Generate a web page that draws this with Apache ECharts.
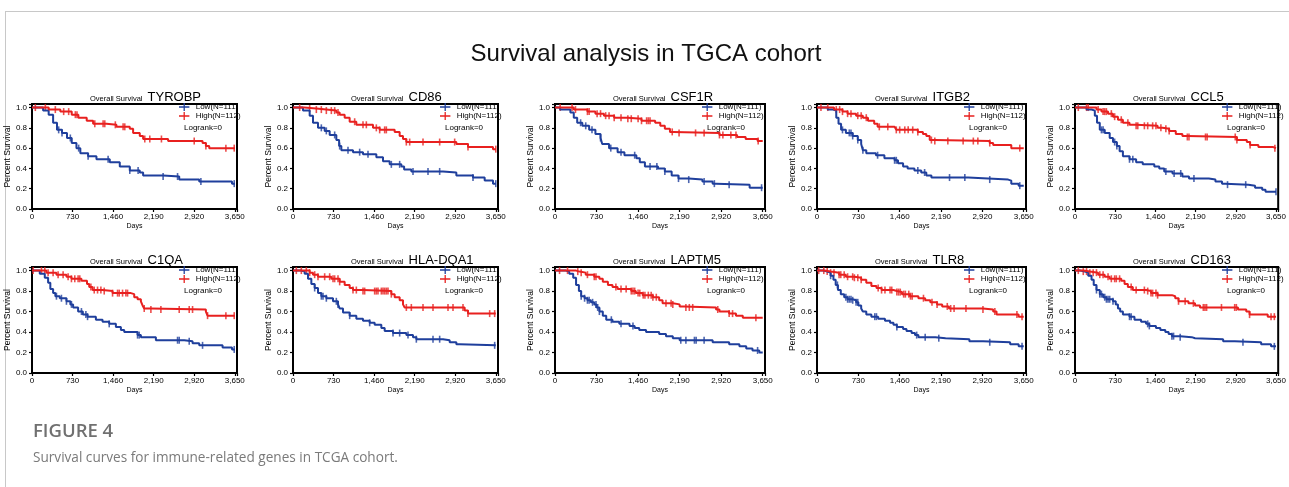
<!DOCTYPE html>
<html>
<head>
<meta charset="utf-8">
<script src="https://cdn.jsdelivr.net/npm/echarts@6.0.0/dist/echarts.min.js"></script>
<style>
  html, body { margin: 0; padding: 0; background: #fff; }
  #chart { width: 1289px; height: 487px; }
</style>
</head>
<body>
<div id="chart"></div>
<script>
// 基因名称（每个面板一个）
const genes = ['TYROBP', 'CD86', 'CSF1R', 'ITGB2', 'CCL5', 'C1QA', 'HLA-DQA1', 'LAPTM5', 'TLR8', 'CD163'];
const xTicks = [0, 730, 1460, 2190, 2920, 3650];
const yTicks = [0, 0.2, 0.4, 0.6, 0.8, 1.0];

// KM曲线：[天数, 生存率]，删失时间点单独列出
const tyrobpLow = [[0,1],[200,0.97],[300,0.93],[380,0.85],[450,0.78],[540,0.75],[630,0.70],[715,0.65],[800,0.60],[870,0.55],[1010,0.52],[1160,0.49],[1400,0.46],[1580,0.42],[1760,0.38],[1940,0.36],[2000,0.33],[2360,0.32],[2650,0.29],[3010,0.27],[3600,0.25],[3650,0.25]];
const tyrobpLowC = [480,540,690,840,1010,1370,1760,1910,2360,2620,3040,3640];
const tyrobpHigh = [[0,1],[300,0.98],[510,0.96],[715,0.93],[835,0.90],[985,0.87],[1100,0.84],[1340,0.83],[1520,0.81],[1760,0.79],[1820,0.75],[1940,0.72],[2000,0.69],[2450,0.67],[3070,0.65],[3130,0.62],[3190,0.60],[3650,0.60]];
const tyrobpHighC = [60,240,420,570,660,780,810,1130,1280,1310,1500,1640,1670,2030,2120,2330,2920,3130,3490,3640];

const cd86Low = [[0,1],[180,0.97],[300,0.92],[360,0.85],[450,0.80],[570,0.77],[660,0.73],[780,0.68],[830,0.62],[870,0.58],[1080,0.56],[1260,0.54],[1500,0.51],[1620,0.47],[1740,0.44],[1950,0.42],[2000,0.39],[2130,0.37],[2700,0.36],[2940,0.33],[3240,0.31],[3450,0.28],[3600,0.25],[3650,0.25]];
const cd86LowC = [510,600,750,840,990,1200,1350,1770,1920,2160,2430,2640,3240,3650];
const cd86High = [[0,1],[200,0.99],[420,0.98],[600,0.97],[780,0.95],[840,0.93],[930,0.90],[1020,0.86],[1140,0.83],[1440,0.80],[1560,0.78],[1830,0.76],[1920,0.72],[1980,0.69],[2040,0.66],[2940,0.64],[3150,0.61],[3600,0.59],[3650,0.59]];
const cd86HighC = [120,300,420,510,600,690,750,810,1110,1260,1320,1500,1560,1650,1680,2040,2100,2340,2640,2910,3150,3650];

const csf1rLow = [[0,1],[90,0.98],[270,0.95],[330,0.90],[390,0.85],[480,0.82],[600,0.78],[710,0.74],[800,0.70],[830,0.64],[950,0.60],[1100,0.56],[1220,0.53],[1430,0.50],[1490,0.46],[1580,0.42],[1810,0.40],[1930,0.37],[2050,0.33],[2170,0.30],[2350,0.29],[2590,0.27],[2770,0.25],[2830,0.24],[3420,0.21],[3650,0.21]];
const csf1rLowC = [450,540,650,800,980,1160,1400,1670,1790,1930,2170,2350,2620,2800,3060,3630];
const csf1rHigh = [[0,1],[330,0.98],[570,0.96],[710,0.94],[860,0.92],[1040,0.90],[1280,0.89],[1520,0.87],[1760,0.85],[1850,0.82],[1930,0.79],[2020,0.76],[2080,0.75],[2890,0.73],[3200,0.71],[3350,0.69],[3560,0.67],[3650,0.67]];
const csf1rHighC = [90,300,360,570,600,740,800,890,950,1040,1160,1280,1340,1460,1520,1610,1640,1670,2060,2180,2470,2620,2890,2950,3090,3180,3570];

const itgb2Low = [[0,1],[190,0.98],[280,0.97],[340,0.90],[380,0.84],[425,0.78],[510,0.75],[630,0.72],[720,0.68],[780,0.64],[810,0.58],[870,0.55],[1040,0.53],[1190,0.50],[1370,0.48],[1430,0.45],[1520,0.42],[1600,0.40],[1720,0.38],[1840,0.36],[1930,0.33],[2020,0.31],[2670,0.30],[3020,0.29],[3375,0.28],[3430,0.25],[3560,0.23],[3650,0.23]];
const itgb2LowC = [450,570,600,630,720,810,1070,1370,1400,1780,1900,2340,2610,3050,3580];
const itgb2High = [[0,1],[300,0.98],[450,0.96],[540,0.94],[690,0.92],[810,0.90],[900,0.87],[1010,0.84],[1070,0.81],[1370,0.80],[1400,0.78],[1780,0.76],[1870,0.74],[1930,0.72],[1990,0.68],[2080,0.67],[3050,0.65],[3110,0.63],[3430,0.60],[3650,0.60]];
const itgb2HighC = [70,190,340,400,450,540,600,720,780,870,1100,1250,1400,1460,1550,1610,1690,1780,2020,2080,2310,2580,2760,2840,3050,3580];

const ccl5Low = [[0,1],[210,0.98],[300,0.97],[360,0.92],[400,0.85],[450,0.78],[540,0.75],[630,0.70],[690,0.66],[760,0.62],[810,0.57],[870,0.52],[990,0.49],[1110,0.46],[1230,0.44],[1440,0.42],[1530,0.40],[1620,0.37],[1770,0.35],[1950,0.32],[2070,0.30],[2430,0.29],[2550,0.27],[2670,0.25],[2730,0.24],[3150,0.23],[3270,0.21],[3400,0.19],[3460,0.17],[3650,0.17]];
const ccl5LowC = [480,510,720,760,990,1050,1650,1800,1920,2160,2770,3100,3650];
const ccl5High = [[0,1],[390,0.98],[480,0.96],[600,0.94],[690,0.91],[780,0.88],[870,0.85],[990,0.83],[1110,0.82],[1500,0.80],[1590,0.79],[1710,0.77],[1830,0.74],[1950,0.72],[2040,0.71],[2940,0.68],[3120,0.66],[3180,0.63],[3330,0.61],[3600,0.60],[3650,0.60]];
const ccl5HighC = [60,210,240,420,510,540,570,660,720,840,960,1110,1140,1260,1320,1410,1470,1560,1650,1710,2040,2070,2370,2400,2910,2940,3180,3630];

const c1qaLow = [[0,1],[140,0.97],[230,0.93],[290,0.88],[330,0.82],[380,0.78],[420,0.75],[500,0.73],[620,0.70],[690,0.67],[740,0.64],[830,0.60],[915,0.57],[1000,0.55],[1150,0.52],[1270,0.50],[1390,0.48],[1510,0.45],[1600,0.42],[1660,0.40],[1900,0.37],[1960,0.35],[2230,0.32],[2740,0.31],[2890,0.29],[3010,0.27],[3430,0.25],[3600,0.23],[3650,0.23]];
const c1qaLowC = [440,530,620,710,890,970,1000,1390,1900,1930,2620,2650,2830,3070,3640];
const c1qaHigh = [[0,1],[260,0.98],[440,0.96],[620,0.94],[710,0.92],[890,0.90],[990,0.87],[1030,0.84],[1090,0.81],[1270,0.80],[1450,0.78],[1780,0.77],[1840,0.74],[1900,0.72],[1960,0.70],[1990,0.66],[2020,0.63],[2140,0.62],[3130,0.60],[3160,0.56],[3650,0.56]];
const c1qaHighC = [20,170,230,290,380,470,560,650,710,770,830,860,1060,1120,1180,1240,1300,1450,1540,1570,1630,1690,1720,2020,2140,2320,2650,2830,2890,3160,3490,3640];

const hlaLow = [[0,1],[150,0.99],[210,0.97],[270,0.92],[330,0.87],[390,0.83],[450,0.78],[510,0.75],[600,0.73],[720,0.70],[810,0.67],[840,0.63],[900,0.59],[1020,0.56],[1140,0.53],[1260,0.51],[1380,0.49],[1470,0.47],[1590,0.44],[1650,0.41],[1800,0.39],[2040,0.37],[2160,0.35],[2220,0.33],[2700,0.32],[2820,0.30],[2940,0.28],[3000,0.27],[3650,0.27]];
const hlaLowC = [390,510,540,600,780,810,1020,1380,1800,1920,2070,2220,2520,2640,3630];
const hlaHigh = [[0,1],[300,0.98],[360,0.96],[450,0.94],[690,0.92],[840,0.89],[930,0.86],[1020,0.83],[1080,0.81],[1260,0.80],[1770,0.77],[1830,0.74],[1920,0.71],[1980,0.67],[2010,0.64],[3090,0.61],[3150,0.58],[3650,0.58]];
const hlaHighC = [60,150,240,300,390,450,570,660,720,750,810,840,1080,1140,1260,1290,1470,1500,1530,1590,1620,1650,1680,1710,1770,2040,2130,2340,2520,2790,2880,3060,3150,3540,3630];

const laptm5Low = [[0,1],[190,0.99],[250,0.97],[320,0.93],[370,0.86],[420,0.80],[460,0.75],[520,0.73],[570,0.71],[630,0.69],[690,0.67],[730,0.64],[780,0.60],[840,0.56],[900,0.52],[1010,0.50],[1130,0.48],[1310,0.46],[1400,0.44],[1480,0.42],[1600,0.40],[1830,0.38],[1950,0.36],[2070,0.34],[2190,0.32],[2770,0.30],[3060,0.28],[3240,0.26],[3360,0.24],[3470,0.22],[3590,0.20],[3650,0.20]];
const laptm5LowC = [460,520,570,600,660,720,750,780,990,1160,1370,2210,2300,2450,2480,2620,3560];
const laptm5High = [[0,1],[370,0.99],[430,0.98],[540,0.96],[690,0.94],[780,0.92],[840,0.89],[930,0.86],[1010,0.84],[1100,0.82],[1340,0.80],[1420,0.78],[1540,0.76],[1720,0.74],[1830,0.71],[1890,0.68],[2070,0.67],[2190,0.65],[2270,0.64],[2830,0.62],[2890,0.60],[3060,0.58],[3180,0.56],[3300,0.54],[3650,0.54]];
const laptm5HighC = [80,220,400,460,570,690,720,1070,1160,1250,1340,1370,1400,1460,1490,1550,1580,1640,1690,1720,1780,1950,2040,2070,2300,2360,2420,2860,3060,3120,3530];

const tlr8Low = [[0,1],[120,0.99],[180,0.98],[240,0.95],[290,0.91],[330,0.86],[370,0.81],[420,0.77],[480,0.74],[540,0.72],[630,0.71],[690,0.69],[730,0.66],[780,0.63],[810,0.60],[870,0.57],[960,0.55],[1080,0.53],[1200,0.51],[1290,0.49],[1350,0.47],[1410,0.45],[1520,0.43],[1580,0.41],[1670,0.39],[1730,0.37],[1790,0.35],[2090,0.34],[2270,0.33],[2690,0.31],[2930,0.30],[3410,0.28],[3560,0.26],[3650,0.26]];
const tlr8LowC = [240,360,510,540,570,600,630,690,720,1020,1050,1410,1760,1910,2150,3050,3620];
const tlr8High = [[0,1],[130,0.99],[240,0.98],[390,0.96],[510,0.94],[660,0.93],[780,0.91],[870,0.88],[960,0.85],[1050,0.83],[1140,0.81],[1350,0.80],[1410,0.79],[1500,0.77],[1640,0.75],[1790,0.73],[1910,0.71],[2000,0.69],[2120,0.67],[2210,0.65],[2330,0.63],[2930,0.62],[3110,0.60],[3170,0.57],[3560,0.55],[3650,0.55]];
const tlr8HighC = [30,120,180,240,300,390,420,480,540,630,660,720,780,1080,1140,1200,1290,1320,1410,1440,1470,1530,1560,1620,1650,1680,1880,2030,2120,2300,2360,2420,2630,2930,3140,3530,3620];

const cd163Low = [[0,1],[90,0.99],[180,0.98],[240,0.95],[300,0.91],[340,0.86],[390,0.81],[450,0.77],[510,0.74],[570,0.72],[690,0.70],[740,0.67],[780,0.63],[820,0.60],[870,0.57],[990,0.55],[1080,0.52],[1200,0.50],[1290,0.48],[1350,0.46],[1470,0.44],[1550,0.42],[1640,0.40],[1700,0.38],[1760,0.36],[1910,0.35],[2120,0.34],[2180,0.33],[2690,0.31],[2900,0.30],[3380,0.28],[3560,0.26],[3650,0.26]];
const cd163LowC = [390,450,480,540,570,600,630,690,990,1020,1320,1350,1760,1790,1910,3050,3620];
const cd163High = [[0,1],[150,0.99],[270,0.98],[420,0.96],[540,0.94],[630,0.92],[840,0.90],[900,0.87],[960,0.84],[1050,0.81],[1290,0.80],[1380,0.78],[1500,0.76],[1760,0.75],[1820,0.73],[1880,0.70],[2060,0.68],[2180,0.66],[2270,0.64],[2960,0.62],[3110,0.60],[3170,0.57],[3500,0.55],[3650,0.55]];
const cd163HighC = [60,150,210,270,330,390,450,510,600,660,720,750,810,1020,1110,1260,1320,1380,1410,1470,1500,1880,2000,2150,2330,2360,2390,2660,2900,2930,3170,3560,3620];

const curvesLow = [tyrobpLow, cd86Low, csf1rLow, itgb2Low, ccl5Low, c1qaLow, hlaLow, laptm5Low, tlr8Low, cd163Low];
const censorLow = [tyrobpLowC, cd86LowC, csf1rLowC, itgb2LowC, ccl5LowC, c1qaLowC, hlaLowC, laptm5LowC, tlr8LowC, cd163LowC];
const curvesHigh = [tyrobpHigh, cd86High, csf1rHigh, itgb2High, ccl5High, c1qaHigh, hlaHigh, laptm5High, tlr8High, cd163High];
const censorHigh = [tyrobpHighC, cd86HighC, csf1rHighC, itgb2HighC, ccl5HighC, c1qaHighC, hlaHighC, laptm5HighC, tlr8HighC, cd163HighC];

const LOW = 'Low(N=111)';
const HIGH = 'High(N=112)';
const BLUE = '#1f3f9c';
const RED = '#e8201f';
const FONT = 'Liberation Sans, Arial, sans-serif';

// 面板布局（像素）
const colLeft = [32, 293, 555, 817, 1075];
const colWidth = [205, 205, 210, 209, 205];
const rowTop = [104, 267];
const rowHeight = [105, 106];

// 删失点的y值取自对应阶梯曲线
function survAt(curve, t) {
  let s = curve[0][1];
  for (const [d, v] of curve) {
    if (d <= t) s = v; else break;
  }
  return s;
}

const chart = echarts.init(document.getElementById('chart'));

const grid = [], xAxis = [], yAxis = [], series = [], legend = [];
const title = [
  {
    text: 'Survival analysis in TGCA cohort',
    left: 646, top: 42, textAlign: 'center', padding: 0,
    textStyle: { fontSize: 24, fontWeight: 'normal', color: '#111', fontFamily: FONT }
  },
  {
    text: 'FIGURE 4', left: 33, top: 422, padding: 0,
    textStyle: { fontSize: 18.5, fontWeight: 600, color: '#707070', fontFamily: 'Open Sans' }
  },
  {
    text: 'Survival curves for immune-related genes in TCGA cohort.', left: 33, top: 451, padding: 0,
    textStyle: { fontSize: 13.6, fontWeight: 'normal', color: '#7a7a7a', fontFamily: 'Open Sans' }
  }
];

genes.forEach((gene, i) => {
  const r = Math.floor(i / 5), c = i % 5;
  const left = colLeft[c], top = rowTop[r], w = colWidth[c], h = rowHeight[r];

  grid.push({
    left: left, top: top, width: w, height: h,
    show: true, borderColor: '#000', borderWidth: 2, backgroundColor: 'transparent'
  });

  xAxis.push({
    gridIndex: i, type: 'value', min: 0, max: 3690, interval: 730,
    name: 'Days', nameLocation: 'middle', nameGap: 14,
    nameTextStyle: { fontSize: 7, color: '#000', fontFamily: FONT },
    axisLine: { show: false },
    axisTick: { length: 3, lineStyle: { color: '#000', width: 1.2 } },
    axisLabel: {
      fontSize: 8, color: '#000', margin: 4, fontFamily: FONT,
      formatter: v => (xTicks.indexOf(v) >= 0 ? v.toLocaleString('en-US') : '')
    },
    splitLine: { show: false }
  });

  yAxis.push({
    gridIndex: i, type: 'value', min: 0, max: 1.035, interval: 0.2,
    name: 'Percent Survival', nameLocation: 'middle', nameGap: 12,
    nameTextStyle: { fontSize: 8.5, color: '#000', fontFamily: FONT },
    axisLine: { show: false },
    axisTick: { length: 3, lineStyle: { color: '#000', width: 1.2 } },
    axisLabel: {
      fontSize: 8, color: '#000', margin: 5, fontFamily: FONT,
      formatter: v => (yTicks.some(t => Math.abs(t - v) < 1e-6) ? v.toFixed(1) : '')
    },
    splitLine: { show: false }
  });

  const groups = [
    { name: LOW, color: BLUE, curve: curvesLow[i], censor: censorLow[i] },
    { name: HIGH, color: RED, curve: curvesHigh[i], censor: censorHigh[i] }
  ];
  groups.forEach(g => {
    series.push({
      type: 'line', name: g.name, xAxisIndex: i, yAxisIndex: i,
      data: g.curve, step: 'end', symbol: 'none',
      lineStyle: { color: g.color, width: 2 }, itemStyle: { color: g.color },
      silent: true, animation: false
    });
    series.push({
      type: 'scatter', name: g.name + ' censor', xAxisIndex: i, yAxisIndex: i,
      data: g.censor.map(t => [t, survAt(g.curve, t)]),
      symbol: 'rect', symbolSize: [1.6, 7],
      itemStyle: { color: g.color }, silent: true, animation: false
    });
  });

  legend.push({
    orient: 'vertical', left: left + 147, top: top - 1, padding: 0, z: 10,
    itemWidth: 13, itemHeight: 8, itemGap: 1, selectedMode: false,
    icon: 'path://M0,4.1H13V5.9H0Z M5.7,0H7.3V10H5.7Z',
    textStyle: { fontSize: 8, color: '#000', fontFamily: FONT },
    data: [LOW, HIGH]
  });

  title.push({
    text: '{a|Overall Survival} {b|' + gene + '}',
    left: left + 58, top: r === 0 ? 86 : 249, padding: 0,
    textStyle: {
      fontFamily: FONT, color: '#000', fontWeight: 'normal',
      rich: {
        a: { fontSize: 7.5, fontFamily: FONT, color: '#000', fontWeight: 'normal', verticalAlign: 'bottom', padding: [0, 0, 1, 0] },
        b: { fontSize: 13, fontFamily: FONT, color: '#000', fontWeight: 'normal', verticalAlign: 'bottom' }
      }
    }
  });
  title.push({
    text: 'Logrank=0', left: left + 152, top: top + 20, padding: 0,
    textStyle: { fontSize: 8, fontWeight: 'normal', color: '#000', fontFamily: FONT }
  });
});

chart.setOption({
  backgroundColor: '#fff',
  animation: false,
  title: title,
  legend: legend,
  grid: grid,
  xAxis: xAxis,
  yAxis: yAxis,
  series: series,
  graphic: [
    { type: 'line', shape: { x1: 5, y1: 11.5, x2: 1289, y2: 11.5 }, style: { stroke: '#c8c8c8', lineWidth: 1 } },
    { type: 'line', shape: { x1: 5.5, y1: 11, x2: 5.5, y2: 487 }, style: { stroke: '#c8c8c8', lineWidth: 1 } }
  ]
});
</script>
</body>
</html>
